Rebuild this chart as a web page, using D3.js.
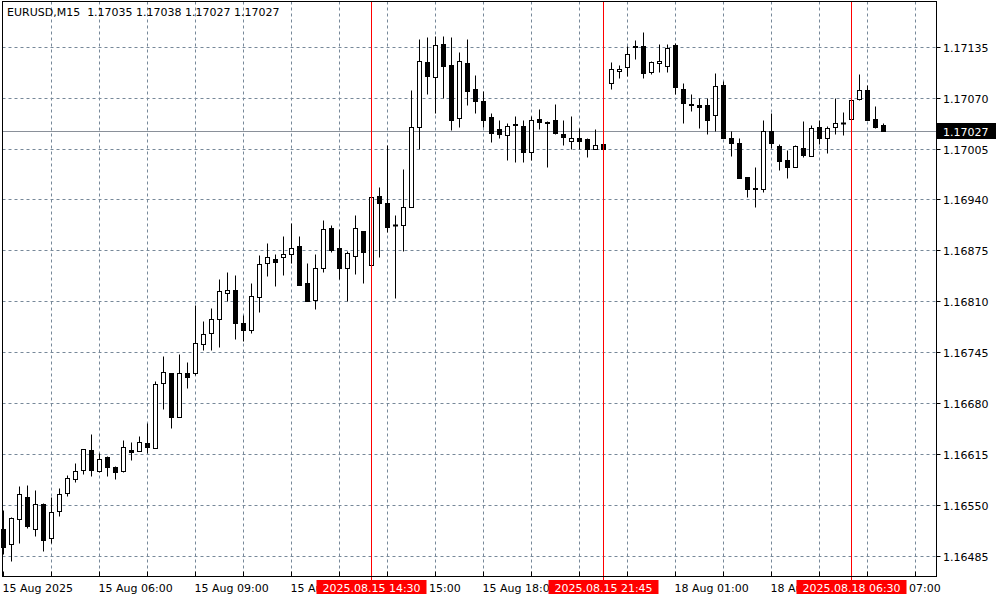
<!DOCTYPE html>
<html><head><meta charset="utf-8">
<script src="https://cdn.jsdelivr.net/npm/d3@7"></script>
<style>
body{margin:0;background:#fff}
svg{display:block}
text{font-family:"DejaVu Sans",sans-serif;font-size:11px;white-space:pre}
</style>
</head><body>
<svg id="c" width="1000" height="600"></svg>
<script>
// ---- data ----
const symbolTitle = "EURUSD,M15  1.17035 1.17038 1.17027 1.17027";
const openP  = [1.16520,1.16500,1.16532,1.16560,1.16520,1.16552,1.16508,1.16542,1.16566,1.16583,1.16595,1.16620,1.16594,1.16611,1.16598,1.16594,1.16620,1.16619,1.16629,1.16623,1.16706,1.16719,1.16663,1.16718,1.16718,1.16755,1.16769,1.16788,1.16821,1.16824,1.16783,1.16774,1.16816,1.16859,1.16864,1.16866,1.16871,1.16881,1.16833,1.16812,1.16852,1.16903,1.16878,1.16852,1.16868,1.16900,1.16857,1.16944,1.16936,1.16908,1.16908,1.16931,1.17033,1.17115,1.17096,1.17139,1.17112,1.17044,1.17114,1.17081,1.17066,1.17045,1.17030,1.17022,1.17035,1.17034,1.17000,1.17043,1.17039,1.17042,1.17023,1.17015,1.17019,1.17017,1.17005,1.17011,1.17089,1.17104,1.17109,1.17136,1.17136,1.17103,1.17114,1.17110,1.17137,1.17081,1.17062,1.17060,1.17060,1.17048,1.17086,1.17019,1.17012,1.16969,1.16955,1.16954,1.17028,1.17008,1.16991,1.16982,1.17006,1.16996,1.17032,1.17019,1.17032,1.17037,1.17043,1.17068,1.17080,1.17043,1.17035];
const highP  = [1.16544,1.16535,1.16574,1.16575,1.16569,1.16553,1.16560,1.16572,1.16588,1.16604,1.16622,1.16641,1.16617,1.16612,1.16600,1.16633,1.16630,1.16638,1.16655,1.16708,1.16740,1.16719,1.16743,1.16732,1.16805,1.16785,1.16801,1.16838,1.16848,1.16843,1.16793,1.16833,1.16869,1.16885,1.16871,1.16894,1.16910,1.16893,1.16859,1.16870,1.16914,1.16907,1.16902,1.16874,1.16920,1.16900,1.16946,1.16956,1.17009,1.16920,1.16979,1.17080,1.17145,1.17148,1.17149,1.17149,1.17147,1.17128,1.17145,1.17099,1.17078,1.17050,1.17042,1.17037,1.17047,1.17042,1.17047,1.17055,1.17040,1.17062,1.17042,1.17046,1.17031,1.17018,1.17030,1.17012,1.17115,1.17112,1.17136,1.17143,1.17154,1.17117,1.17138,1.17139,1.17140,1.17089,1.17075,1.17069,1.17069,1.17102,1.17091,1.17028,1.17019,1.16969,1.16982,1.17042,1.17050,1.17011,1.17003,1.17010,1.17040,1.17035,1.17042,1.17034,1.17069,1.17052,1.17075,1.17100,1.17086,1.17059,1.17038];
const lowP   = [1.16488,1.16478,1.16501,1.16521,1.16511,1.16491,1.16501,1.16536,1.16561,1.16580,1.16590,1.16587,1.16592,1.16587,1.16583,1.16592,1.16607,1.16619,1.16616,1.16623,1.16673,1.16648,1.16663,1.16699,1.16716,1.16748,1.16748,1.16752,1.16811,1.16762,1.16759,1.16770,1.16797,1.16842,1.16829,1.16844,1.16859,1.16831,1.16811,1.16800,1.16847,1.16873,1.16839,1.16811,1.16845,1.16834,1.16857,1.16866,1.16898,1.16814,1.16874,1.16931,1.17005,1.17074,1.17050,1.17069,1.17029,1.17033,1.17061,1.17051,1.17032,1.17014,1.17019,1.16990,1.16988,1.16988,1.16990,1.17030,1.16981,1.17023,1.17009,1.17004,1.17004,1.16994,1.17004,1.17003,1.17081,1.17095,1.17097,1.17119,1.17095,1.17100,1.17103,1.17103,1.17075,1.17037,1.17053,1.17031,1.17023,1.17028,1.17018,1.16996,1.16968,1.16943,1.16930,1.16950,1.17006,1.16978,1.16968,1.16981,1.16994,1.16996,1.17011,1.16999,1.17024,1.17022,1.17042,1.17067,1.17041,1.17031,1.17027];
const closeP = [1.16497,1.16533,1.16564,1.16523,1.16552,1.16506,1.16541,1.16564,1.16584,1.16593,1.16621,1.16595,1.16609,1.16599,1.16592,1.16624,1.16618,1.16630,1.16624,1.16705,1.16720,1.16663,1.16719,1.16714,1.16757,1.16768,1.16788,1.16823,1.16825,1.16782,1.16774,1.16817,1.16858,1.16866,1.16860,1.16871,1.16878,1.16831,1.16811,1.16853,1.16902,1.16875,1.16852,1.16872,1.16904,1.16873,1.16943,1.16935,1.16905,1.16907,1.16931,1.17032,1.17117,1.17098,1.17137,1.17111,1.17042,1.17117,1.17079,1.17066,1.17042,1.17025,1.17023,1.17034,1.17036,1.17001,1.17042,1.17039,1.17038,1.17025,1.17020,1.17019,1.17015,1.17004,1.17010,1.17004,1.17106,1.17107,1.17126,1.17134,1.17102,1.17115,1.17117,1.17133,1.17083,1.17063,1.17060,1.17058,1.17042,1.17085,1.17019,1.17012,1.16968,1.16954,1.16953,1.17028,1.17012,1.16989,1.16982,1.17008,1.16997,1.17031,1.17019,1.17031,1.17037,1.17038,1.17067,1.17080,1.17041,1.17033,1.17027];
const priceTicks = [1.17135,1.17070,1.17005,1.16940,1.16875,1.16810,1.16745,1.16680,1.16615,1.16550,1.16485];
const timeTickIdx = [0,12,24,36,48,60,72,84,96,108];
const timeTickLabels = ["15 Aug 2025","15 Aug 06:00","15 Aug 09:00","15 Aug 12:00","15 Aug 15:00","15 Aug 18:00","15 Aug 21:00","18 Aug 01:00","18 Aug 04:00","18 Aug 07:00"];
const markerIdx = [46,75,106];
const markerLabels = ["2025.08.15 14:30","2025.08.15 21:45","2025.08.18 06:30"];
const lastPrice = 1.17027;
const lastPriceLabel = "1.17027";

// ---- drawing ----
const svg = d3.select("#c");
const L = 2.5, T = 1.5, R = 936.5, B = 576.5;
const n = openP.length;
const x = d3.scaleLinear().domain([0, 110]).range([3.5, 883.5]);
const y = d3.scaleLinear().domain([1.16485, 1.17135]).range([556, 46.7]);
const py = v => Math.round(y(v)) + 0.5;
const grid = "#778899";

svg.append("rect").attr("width",1000).attr("height",600).attr("fill","#fff");

// horizontal grid
svg.append("g").selectAll("line").data(priceTicks).join("line")
  .attr("x1", L).attr("x2", R).attr("y1", d => py(d)).attr("y2", d => py(d))
  .attr("stroke", grid).attr("stroke-dasharray", "3,3");
// vertical grid
const vIdx = d3.range(6, 200, 6).filter(i => x(i) < R);
svg.append("g").selectAll("line").data(vIdx).join("line")
  .attr("x1", d => x(d)).attr("x2", d => x(d)).attr("y1", T).attr("y2", B)
  .attr("stroke", grid).attr("stroke-dasharray", "3,3");

// last price line
svg.append("line").attr("x1", L).attr("x2", R).attr("y1", py(lastPrice)).attr("y2", py(lastPrice))
  .attr("stroke", "#8a9099");

// candles
const bars = d3.range(n).map(i => ({i, o: openP[i], h: highP[i], l: lowP[i], c: closeP[i]}));
const cg = svg.append("g");
cg.selectAll("line.w").data(bars).join("line").attr("class","w")
  .attr("x1", d => x(d.i)).attr("x2", d => x(d.i))
  .attr("y1", d => py(d.h)).attr("y2", d => py(d.l))
  .attr("stroke", "#000");
cg.selectAll("rect.b").data(bars.filter(d => Math.abs(py(d.o) - py(d.c)) >= 1)).join("rect").attr("class","b")
  .attr("x", d => x(d.i) - 2).attr("width", 4)
  .attr("y", d => Math.min(py(d.o), py(d.c)))
  .attr("height", d => Math.abs(py(d.o) - py(d.c)))
  .attr("fill", d => d.c > d.o ? "#fff" : "#000")
  .attr("stroke", "#000");
cg.selectAll("line.d").data(bars.filter(d => Math.abs(py(d.o) - py(d.c)) < 1)).join("line").attr("class","d")
  .attr("x1", d => x(d.i) - 2.5).attr("x2", d => x(d.i) + 2.5)
  .attr("y1", d => py(d.c)).attr("y2", d => py(d.c))
  .attr("stroke", "#000").attr("stroke-width", 2);

// vertical marker lines
svg.append("g").selectAll("line").data(markerIdx).join("line")
  .attr("x1", d => x(d)).attr("x2", d => x(d)).attr("y1", T).attr("y2", B + 4)
  .attr("stroke", "#ff0000");

// frame
svg.append("rect").attr("x", L).attr("y", T).attr("width", R - L).attr("height", B - T)
  .attr("fill", "none").attr("stroke", "#000");

// bottom ticks
svg.append("g").selectAll("line").data(d3.range(0, 200, 6).filter(i => x(i) < R)).join("line")
  .attr("x1", d => x(d)).attr("x2", d => x(d)).attr("y1", B - 5).attr("y2", B)
  .attr("stroke", "#000");
// right ticks
svg.append("g").selectAll("line").data(priceTicks).join("line")
  .attr("x1", R).attr("x2", R + 4).attr("y1", d => py(d)).attr("y2", d => py(d))
  .attr("stroke", "#000");

// price labels
svg.append("g").selectAll("text").data(priceTicks).join("text")
  .attr("x", 943).attr("y", d => py(d) + 4).attr("fill", "#000")
  .text(d => d.toFixed(5));

// time labels
svg.append("g").selectAll("text").data(timeTickIdx).join("text")
  .attr("x", d => x(d) - 1).attr("y", 591.5).attr("fill", "#000")
  .text((d, k) => timeTickLabels[k]);

// marker labels (drawn over the time labels, as in the terminal)
const mg = svg.append("g").selectAll("g").data(markerIdx).join("g");
mg.append("rect").attr("x", d => x(d) - 55).attr("y", 580).attr("width", 110).attr("height", 14).attr("fill", "#ff0000");
mg.append("text").attr("x", d => x(d)).attr("y", 591.5).attr("text-anchor", "middle").attr("fill", "#fff")
  .text((d, k) => markerLabels[k]);

// last price label
svg.append("rect").attr("x", 937).attr("y", py(lastPrice) - 8.5).attr("width", 59).attr("height", 16).attr("fill", "#000");
svg.append("text").attr("x", 943).attr("y", py(lastPrice) + 4).attr("fill", "#fff").text(lastPriceLabel);

// title
svg.append("text").attr("x", 7).attr("y", 16).attr("fill", "#000").text(symbolTitle);
</script>
</body></html>
